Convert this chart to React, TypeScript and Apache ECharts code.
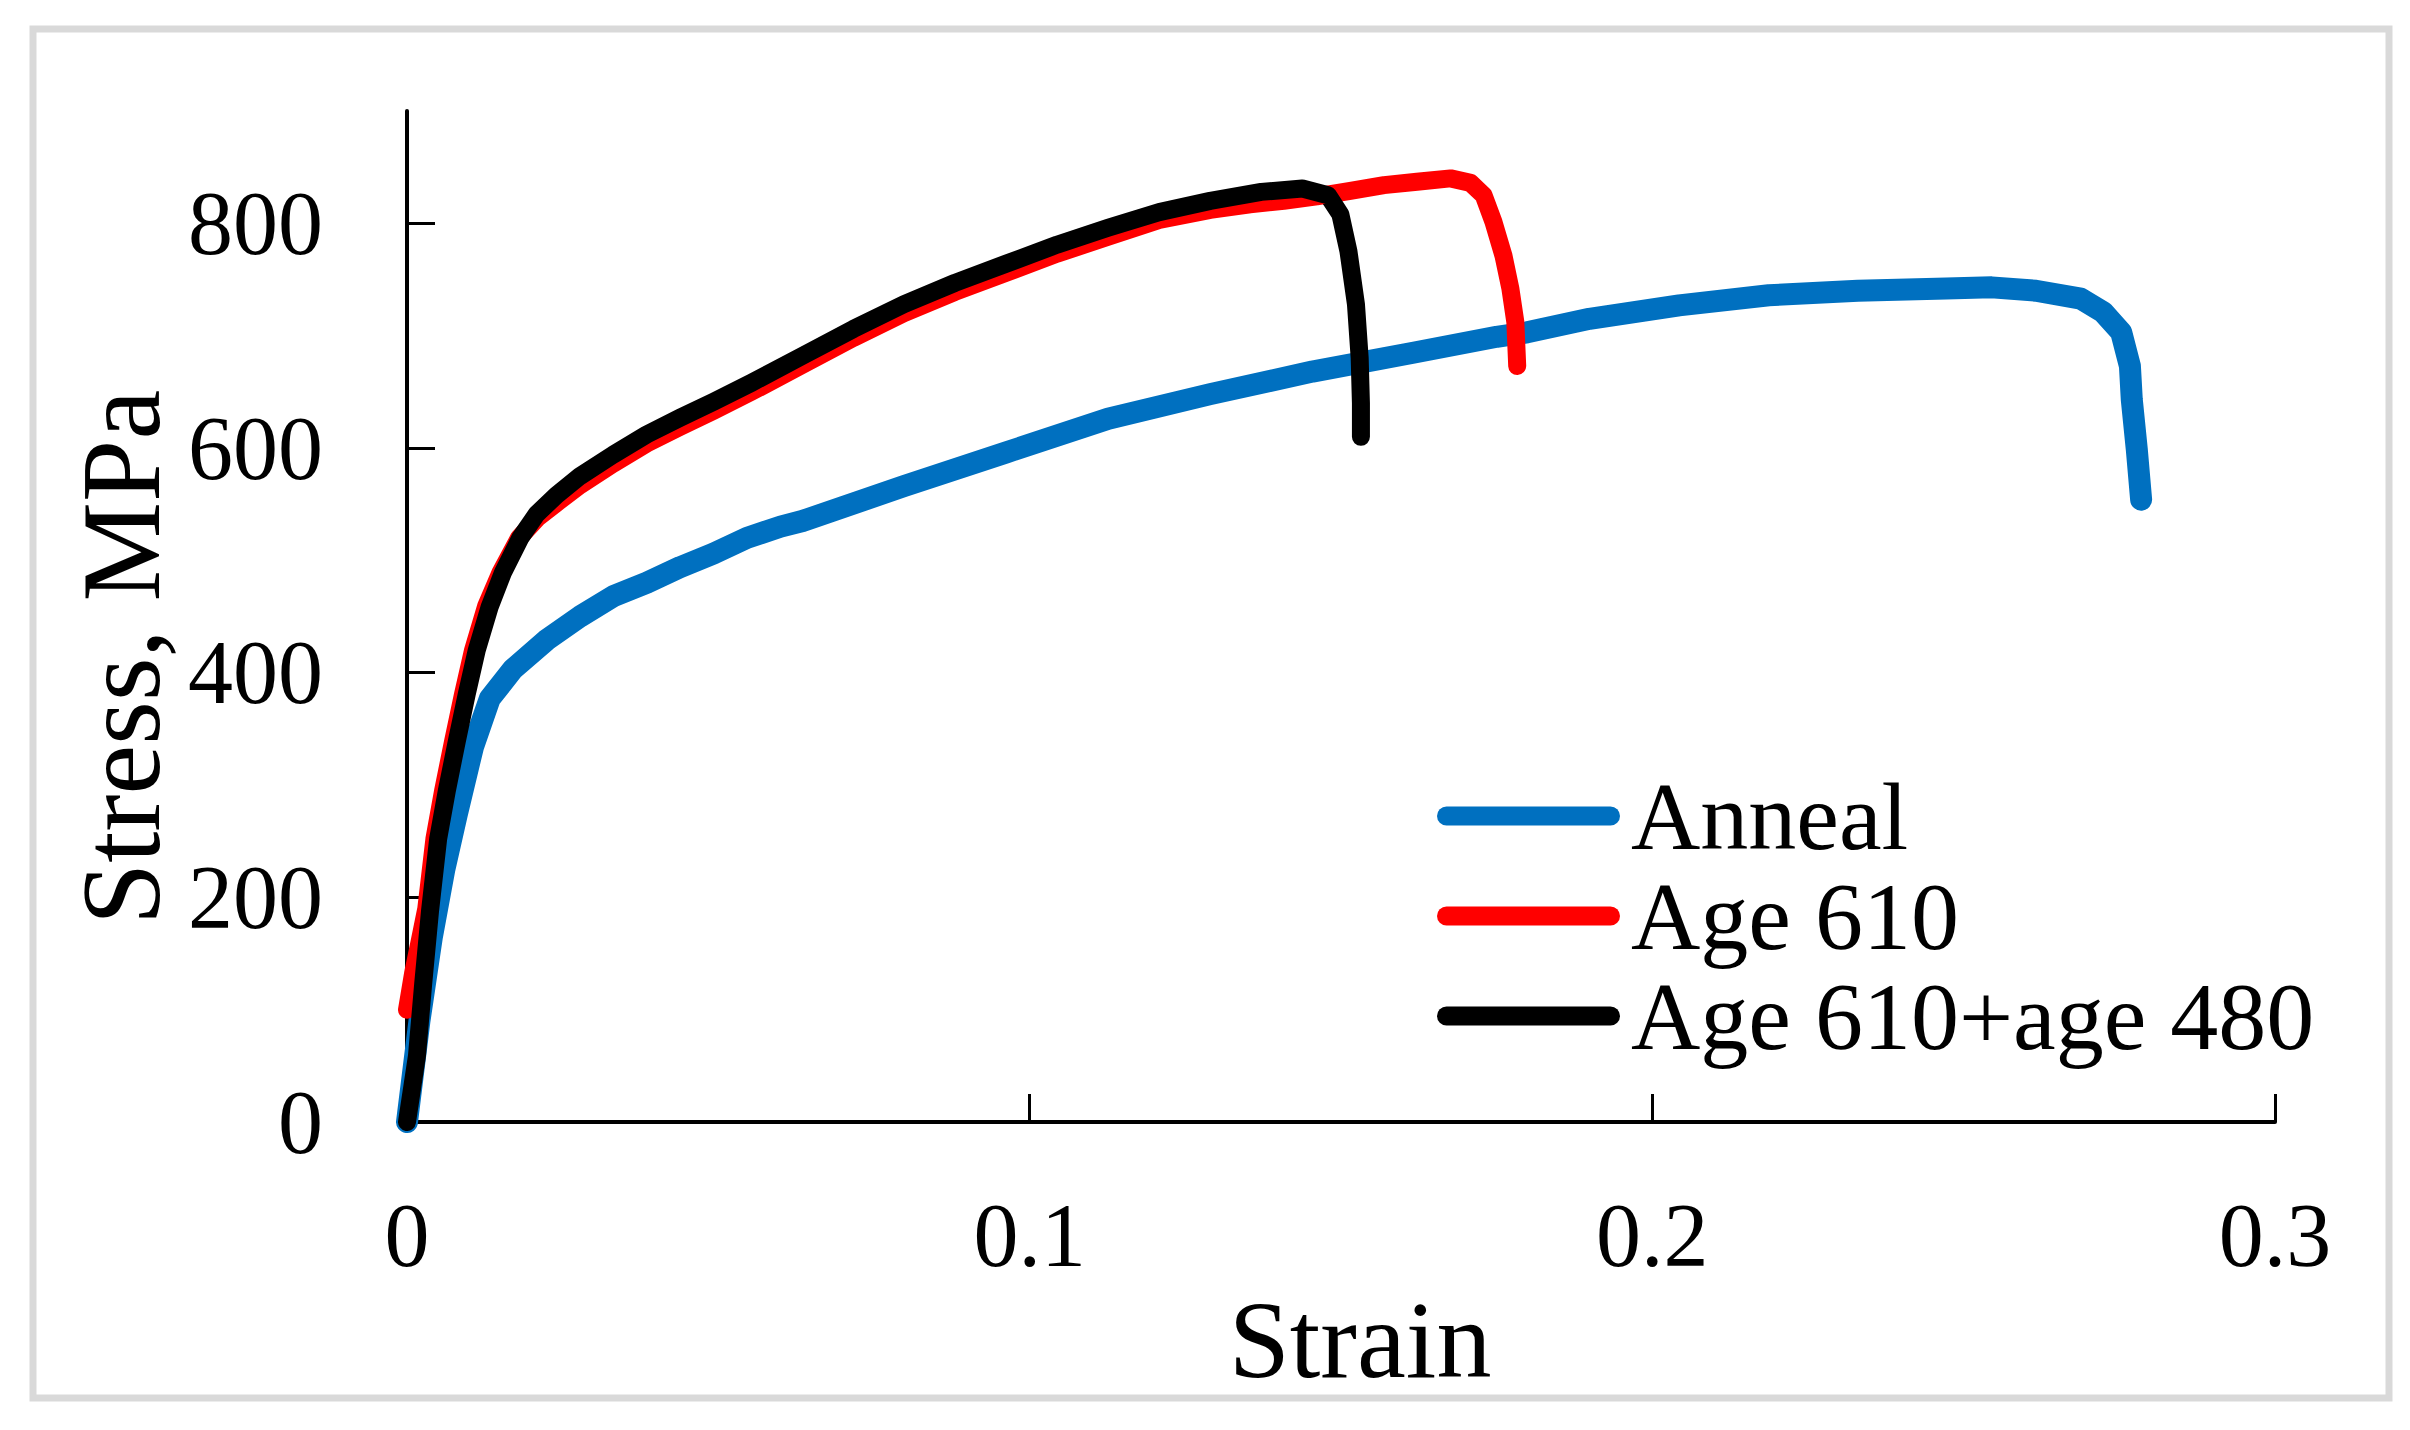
import React, { useEffect, useRef } from "react";
import * as echarts from "echarts";

// ---- Data ----
const seriesNames = ["Anneal", "Age 610", "Age 610+age 480"];

const annealStrain = [0, 0.002, 0.004, 0.006, 0.008, 0.0106, 0.0133, 0.017, 0.0224, 0.0278, 0.0331, 0.0385, 0.0439, 0.0492, 0.0546, 0.06, 0.0635, 0.0798, 0.0962, 0.1126, 0.129, 0.1454, 0.1618, 0.175, 0.1799, 0.1899, 0.2043, 0.2187, 0.233, 0.2472, 0.2545, 0.2616, 0.2688, 0.2724, 0.2753, 0.2767, 0.277, 0.2778, 0.2785];
const annealStress = [0, 90, 165, 225, 274, 334, 377, 403, 429, 450, 468, 480, 494, 506, 520, 530, 535, 566, 596, 626, 648, 668, 685, 699, 703, 715, 727, 736, 740, 742, 743, 740, 733, 721, 703, 673, 643, 599, 554];

const age610Strain = [0, 0.001, 0.002, 0.0031, 0.0044, 0.0058, 0.0074, 0.009, 0.0106, 0.0127, 0.015, 0.018, 0.021, 0.024, 0.0278, 0.0331, 0.0385, 0.0439, 0.0492, 0.0553, 0.0635, 0.0717, 0.0798, 0.088, 0.0962, 0.1044, 0.1126, 0.1208, 0.129, 0.1354, 0.1408, 0.1461, 0.1515, 0.1569, 0.1622, 0.1676, 0.1708, 0.1729, 0.1745, 0.1761, 0.1772, 0.178, 0.1783];
const age610Stress = [100, 133, 160, 190, 252, 295, 339, 381, 420, 459, 489, 520, 538, 551, 567, 586, 604, 619, 633, 650, 674, 698, 720, 739, 756, 773, 788, 803, 812, 817, 820, 824, 829, 834, 837, 840, 836, 825, 801, 771, 742, 712, 673];

const age480Strain = [0, 0.0016, 0.0026, 0.0037, 0.005, 0.0064, 0.008, 0.0096, 0.0112, 0.0133, 0.0154, 0.0182, 0.0208, 0.024, 0.0278, 0.0331, 0.0385, 0.0439, 0.0492, 0.0553, 0.0635, 0.0717, 0.0798, 0.088, 0.0962, 0.1044, 0.1126, 0.1208, 0.129, 0.1372, 0.1438, 0.1479, 0.1499, 0.1512, 0.1524, 0.153, 0.1532, 0.1532];
const age480Stress = [0, 59, 123, 188, 252, 295, 339, 381, 420, 459, 489, 520, 541, 558, 575, 594, 612, 627, 641, 658, 682, 706, 728, 747, 764, 781, 796, 810, 820, 828, 831, 825, 808, 775, 728, 680, 640, 610];

const yTicks = [0, 200, 400, 600, 800];
const xTicks = [0, 0.1, 0.2, 0.3];

const FONT = "'Liberation Serif', 'Times New Roman', serif";

function pairs(xs: number[], ys: number[]) {
  return xs.map((x, i) => [x, ys[i]]);
}

const capsule =
  "path://M9.5,0 L173.5,0 A9.5,9.5 0 0 1 173.5,19 L9.5,19 A9.5,9.5 0 0 1 9.5,0 Z";

export default function App() {
  const ref = useRef<HTMLDivElement>(null);

  useEffect(() => {
    if (!ref.current) return;
    const chart = echarts.init(ref.current, null, { renderer: "svg" });
    const colors = ["#0070C0", "#FF0000", "#000000"];
    const widths = [22, 18, 18];
    const data = [
      pairs(annealStrain, annealStress),
      pairs(age610Strain, age610Stress),
      pairs(age480Strain, age480Stress),
    ];

    chart.setOption({
      animation: false,
      backgroundColor: "#ffffff",
      graphic: [
        {
          type: "rect",
          shape: { x: 33, y: 29, width: 2356, height: 1369 },
          style: { fill: "none", stroke: "#d9d9d9", lineWidth: 7 },
          silent: true,
        },
      ],
      grid: { left: 407, right: 135, top: 111, bottom: 308 },
      legend: {
        orient: "vertical",
        left: 1437,
        top: 766,
        padding: 0,
        itemGap: 0,
        itemWidth: 183,
        itemHeight: 19,
        icon: capsule,
        data: seriesNames,
        textStyle: {
          fontFamily: FONT,
          fontSize: 96,
          color: "#000",
          lineHeight: 100,
          padding: [0, 0, 0, 6],
        },
      },
      xAxis: {
        type: "value",
        min: 0,
        max: 0.3,
        interval: 0.1,
        name: "Strain",
        nameLocation: "middle",
        nameGap: 140,
        nameTextStyle: {
          fontFamily: FONT,
          fontSize: 110,
          color: "#000",
          padding: [0, 0, 0, 38],
        },
        axisLine: { show: true, lineStyle: { color: "#000", width: 4 } },
        axisTick: {
          show: true,
          inside: true,
          length: 28,
          customValues: xTicks,
          lineStyle: { color: "#000", width: 3 },
        },
        axisLabel: {
          fontFamily: FONT,
          fontSize: 90,
          color: "#000",
          margin: 68,
          customValues: xTicks,
          formatter: (v: number) => String(Math.round(v * 10) / 10),
        },
        splitLine: { show: false },
      },
      yAxis: {
        type: "value",
        min: 0,
        max: 900,
        interval: 200,
        name: "Stress, MPa",
        nameLocation: "middle",
        nameGap: 226,
        nameTextStyle: {
          fontFamily: FONT,
          fontSize: 112,
          color: "#000",
          padding: [0, 82, 0, 0],
        },
        axisLine: { show: true, lineStyle: { color: "#000", width: 4 } },
        axisTick: {
          show: true,
          inside: true,
          length: 28,
          customValues: yTicks,
          lineStyle: { color: "#000", width: 3 },
        },
        axisLabel: {
          fontFamily: FONT,
          fontSize: 90,
          color: "#000",
          margin: 84,
          customValues: yTicks,
        },
        splitLine: { show: false },
      },
      series: seriesNames.map((name, i) => ({
        name,
        type: "line",
        data: data[i],
        showSymbol: false,
        symbol: "none",
        color: colors[i],
        itemStyle: { color: colors[i] },
        lineStyle: { color: colors[i], width: widths[i], cap: "round", join: "round" },
        z: 2 + i,
      })),
    });

    return () => chart.dispose();
  }, []);

  return (
    <div
      ref={ref}
      style={{ position: "fixed", left: 0, top: 0, width: 2410, height: 1430, background: "#fff" }}
    />
  );
}
